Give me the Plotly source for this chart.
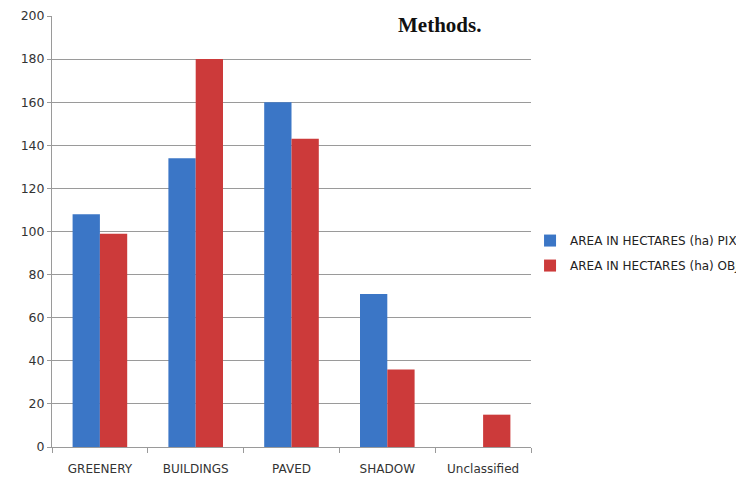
import plotly.graph_objects as go

categories = ["GREENERY", "BUILDINGS", "PAVED", "SHADOW", "Unclassified"]
pixel_based = [108, 134, 160, 71, 0]
object_based = [99, 180, 143, 36, 15]
series_names = ["AREA IN HECTARES (ha) PIXEL BASED", "AREA IN HECTARES (ha) OBJECT BASED"]
y_ticks = [0, 20, 40, 60, 80, 100, 120, 140, 160, 180, 200]

fig = go.Figure()
fig.add_trace(go.Bar(x=categories, y=pixel_based, name=series_names[0], legendgroup="a",
                     marker=dict(color="#3b76c6", line=dict(width=0))))
fig.add_trace(go.Bar(x=categories, y=object_based, name=series_names[1], legendgroup="b",
                     marker=dict(color="#cc3a3a", line=dict(width=0))))

fig.update_layout(
    width=744, height=481,
    margin=dict(l=44, r=221, t=8, b=42, autoexpand=False),
    paper_bgcolor="white", plot_bgcolor="white",
    barmode="group", bargap=0.43, bargroupgap=0.0,
    font=dict(family="DejaVu Sans", size=11, color="#222222"),
    showlegend=True,
    legend=dict(x=0.998, y=0.45, xanchor="left", yanchor="middle", itemwidth=30,
                font=dict(family="DejaVu Sans", size=12, color="#222222"),
                bgcolor="rgba(0,0,0,0)", tracegroupgap=6),
)
fig.layout.annotations = [dict(text="<b>Methods.</b>", x=0.81, y=0.979, xref="paper", yref="paper",
                               xanchor="center", yanchor="middle", showarrow=False,
                               font=dict(family="Liberation Serif", size=21, color="#111111"),
                               bgcolor="white", borderpad=0)]

fig.update_yaxes(range=[0, 200], tickvals=y_ticks, showgrid=True, gridcolor="#9a9a9a",
                 gridwidth=1, showline=True, linecolor="#9a9a9a", ticks="outside",
                 ticklen=4, tickcolor="#9a9a9a", zeroline=False,
                 tickfont=dict(size=12.5, color="#333333"))
fig.update_xaxes(showline=True, linecolor="#9a9a9a", ticks="outside", tickson="boundaries",
                 ticklen=5, tickcolor="#9a9a9a", ticklabelstandoff=11,
                 tickfont=dict(size=12, color="#333333"))

fig.write_html("out.html")
